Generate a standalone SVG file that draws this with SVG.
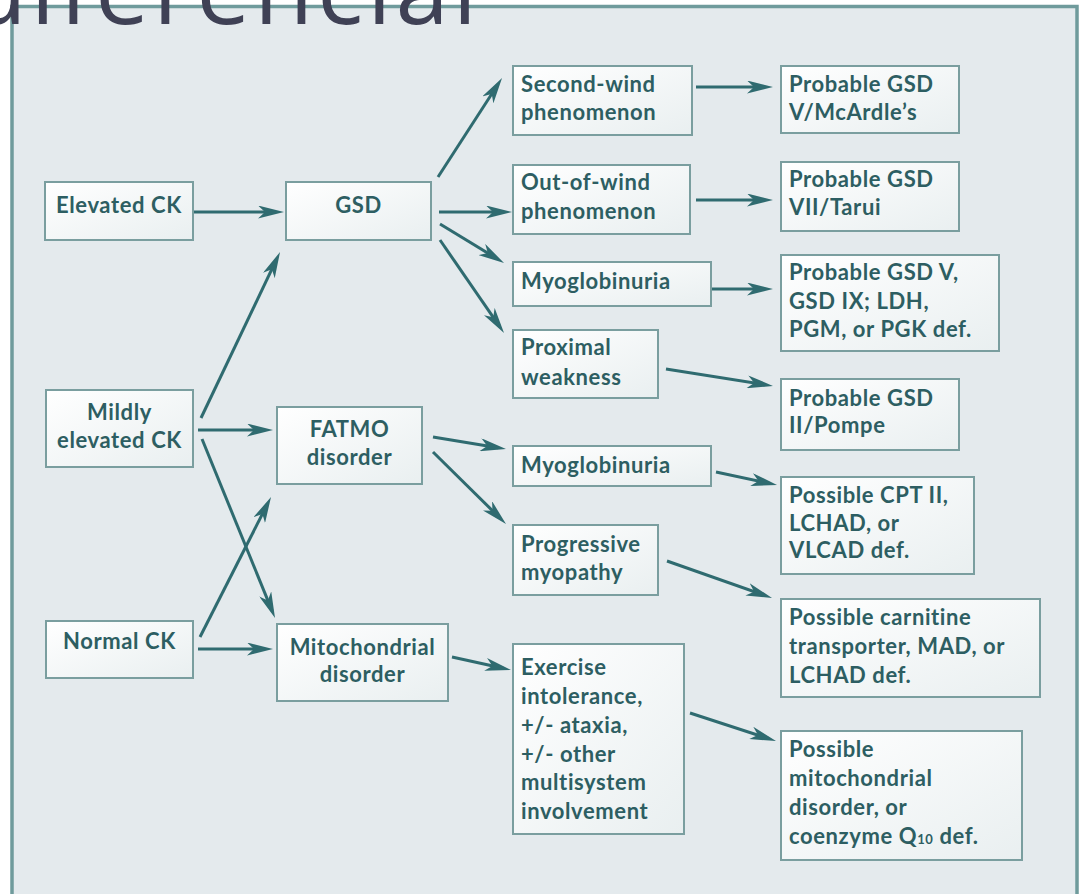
<svg xmlns="http://www.w3.org/2000/svg" width="1080" height="894" viewBox="0 0 1080 894">
<defs>
<style>
.box{fill:url(#bg);stroke:#7a9e9f;stroke-width:2}
.t{font-family:Lato,"Liberation Sans",sans-serif;font-weight:700;font-size:22px;letter-spacing:0.6px;fill:#2d5e62}
.c{text-anchor:middle}
.conn path{stroke:#2f6b70;stroke-width:3;fill:none;marker-end:url(#ah)}
</style>
<linearGradient id="bg" x1="0" y1="0" x2="1" y2="1">
<stop offset="0" stop-color="#ffffff"/>
<stop offset="1" stop-color="#e9eff0"/>
</linearGradient>
<marker id="ah" viewBox="0 0 26 13" refX="18" refY="6.5" markerWidth="26" markerHeight="13" markerUnits="userSpaceOnUse" orient="auto">
<path d="M0,0 L26,6.5 L0,13 L7,6.5 z" fill="#2f6b70"/>
</marker>
</defs>
<rect x="0" y="0" width="1080" height="894" fill="#ffffff"/>
<rect x="12" y="6.5" width="1065" height="900" fill="#e4eaed" stroke="#6f9b9c" stroke-width="3.5"/>
<text x="-32" y="24" font-family="'Open Sans',sans-serif" font-size="96" font-weight="500" letter-spacing="4" fill="#3f4155">diferencial</text>

<g class="conn">
<path d="M193,212 L276,212"/>
<path d="M438,177 L497.7,84.7"/>
<path d="M439,212 L504,212"/>
<path d="M440,224 L497.2,258.8"/>
<path d="M440,240 L499.5,326.4"/>
<path d="M696,87 L765,87"/>
<path d="M696,200 L765,200"/>
<path d="M711,289 L765,289"/>
<path d="M666,369 L765.1,384.7"/>
<path d="M201,418 L276.6,259.2"/>
<path d="M198,430 L265,430"/>
<path d="M202,439 L272,610.6"/>
<path d="M200,637 L267.4,504.1"/>
<path d="M198,649 L265,649"/>
<path d="M433,437 L498.1,447.7"/>
<path d="M433,452 L500.3,518.4"/>
<path d="M716,472 L769.2,483.3"/>
<path d="M667,561 L764.5,595.3"/>
<path d="M452,657 L503.2,668.3"/>
<path d="M690,713 L768.4,738.5"/>
</g>

<g id="elevated-ck"><rect class="box" x="45" y="182" width="148" height="58"/><text class="t c" x="119" y="213">Elevated CK</text></g>
<g id="gsd"><rect class="box" x="286" y="182" width="145" height="58"/><text class="t c" x="358.5" y="213">GSD</text></g>
<g id="mildly-elevated-ck"><rect class="box" x="46" y="390" width="147" height="77"/><text class="t c" x="119.5" y="420">Mildly</text><text class="t c" x="119.5" y="448">elevated CK</text></g>
<g id="fatmo"><rect class="box" x="277" y="407" width="145" height="77"/><text class="t c" x="349.5" y="437">FATMO</text><text class="t c" x="349.5" y="465">disorder</text></g>
<g id="normal-ck"><rect class="box" x="46" y="621" width="147" height="57"/><text class="t c" x="119.5" y="649">Normal CK</text></g>
<g id="mitochondrial"><rect class="box" x="277" y="624" width="171" height="77"/><text class="t c" x="362.5" y="655">Mitochondrial</text><text class="t c" x="362.5" y="682">disorder</text></g>

<g id="second-wind"><rect class="box" x="513" y="66" width="179" height="69"/><text class="t" x="521" y="92">Second-wind</text><text class="t" x="521" y="120">phenomenon</text></g>
<g id="out-of-wind"><rect class="box" x="513" y="165" width="177" height="69"/><text class="t" x="521" y="190">Out-of-wind</text><text class="t" x="521" y="219">phenomenon</text></g>
<g id="myoglobinuria-1"><rect class="box" x="513" y="262" width="198" height="44"/><text class="t" x="521" y="289">Myoglobinuria</text></g>
<g id="proximal-weakness"><rect class="box" x="513" y="330" width="145" height="68"/><text class="t" x="521" y="355">Proximal</text><text class="t" x="521" y="385">weakness</text></g>
<g id="myoglobinuria-2"><rect class="box" x="513" y="446" width="198" height="40"/><text class="t" x="521" y="473">Myoglobinuria</text></g>
<g id="progressive-myopathy"><rect class="box" x="513" y="525" width="145" height="70"/><text class="t" x="521" y="552">Progressive</text><text class="t" x="521" y="580">myopathy</text></g>
<g id="exercise-intolerance"><rect class="box" x="513" y="644" width="171" height="190"/><text class="t" x="521" y="675">Exercise</text><text class="t" x="521" y="704">intolerance,</text><text class="t" x="521" y="733">+/- ataxia,</text><text class="t" x="521" y="762">+/- other</text><text class="t" x="521" y="790">multisystem</text><text class="t" x="521" y="819">involvement</text></g>

<g id="gsd-v-mcardle"><rect class="box" x="781" y="66" width="178" height="67"/><text class="t" x="789" y="92">Probable GSD</text><text class="t" x="789" y="120">V/McArdle’s</text></g>
<g id="gsd-vii-tarui"><rect class="box" x="781" y="162" width="178" height="69"/><text class="t" x="789" y="187">Probable GSD</text><text class="t" x="789" y="215">VII/Tarui</text></g>
<g id="gsd-v-ix"><rect class="box" x="781" y="255" width="218" height="96"/><text class="t" x="789" y="280">Probable GSD V,</text><text class="t" x="789" y="309">GSD IX; LDH,</text><text class="t" x="789" y="337">PGM, or PGK def.</text></g>
<g id="gsd-ii-pompe"><rect class="box" x="781" y="379" width="178" height="71"/><text class="t" x="789" y="406">Probable GSD</text><text class="t" x="789" y="433">II/Pompe</text></g>
<g id="cpt-ii"><rect class="box" x="781" y="477" width="193" height="97"/><text class="t" x="789" y="503">Possible CPT II,</text><text class="t" x="789" y="531">LCHAD, or</text><text class="t" x="789" y="558">VLCAD def.</text></g>
<g id="carnitine"><rect class="box" x="781" y="599" width="259" height="98"/><text class="t" x="789" y="625">Possible carnitine</text><text class="t" x="789" y="654">transporter, MAD, or</text><text class="t" x="789" y="683">LCHAD def.</text></g>
<g id="possible-mitochondrial"><rect class="box" x="781" y="731" width="241" height="129"/><text class="t" x="789" y="757">Possible</text><text class="t" x="789" y="786">mitochondrial</text><text class="t" x="789" y="815">disorder, or</text><text class="t" x="789" y="844">coenzyme Q<tspan font-size="13">10</tspan> def.</text></g>
</svg>
